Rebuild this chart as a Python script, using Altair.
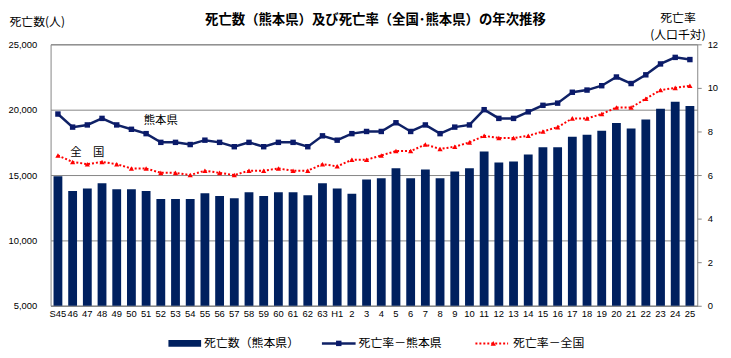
import altair as alt
import pandas as pd

cats = ["S45", "46", "47", "48", "49", "50", "51", "52", "53", "54", "55", "56", "57",
        "58", "59", "60", "61", "62", "63", "H1", "2", "3", "4", "5", "6", "7", "8", "9",
        "10", "11", "12", "13", "14", "15", "16", "17", "18", "19", "20", "21", "22",
        "23", "24", "25"]

deaths = [14900, 13770, 13970, 14370, 13920, 13920, 13770, 13160, 13160, 13160, 13610,
          13390, 13230, 13690, 13390, 13690, 13690, 13460, 14370, 13970, 13560, 14650,
          14750, 15510, 14750, 15430, 14750, 15280, 15510, 16800, 15960, 16040, 16570,
          17120, 17120, 17930, 18080, 18390, 18990, 18560, 19240, 20080, 20600, 20280]

rate_kumamoto = [8.8, 8.2, 8.3, 8.6, 8.3, 8.1, 7.9, 7.5, 7.5, 7.4, 7.6, 7.5, 7.3, 7.5,
                 7.3, 7.5, 7.5, 7.3, 7.8, 7.6, 7.9, 8.0, 8.0, 8.4, 8.0, 8.3, 7.9, 8.2,
                 8.3, 9.0, 8.6, 8.6, 8.9, 9.2, 9.3, 9.8, 9.9, 10.1, 10.5, 10.2, 10.6,
                 11.1, 11.4, 11.3]

rate_national = [6.9, 6.6, 6.5, 6.6, 6.5, 6.3, 6.3, 6.1, 6.1, 6.0, 6.2, 6.1, 6.0, 6.2,
                 6.2, 6.3, 6.2, 6.2, 6.5, 6.4, 6.7, 6.7, 6.9, 7.1, 7.1, 7.4, 7.2, 7.3,
                 7.5, 7.8, 7.7, 7.7, 7.8, 8.0, 8.2, 8.6, 8.6, 8.8, 9.1, 9.1, 9.5, 9.9,
                 10.0, 10.1]

left_ticks = [5000, 10000, 15000, 20000, 25000]
right_ticks = [0, 2, 4, 6, 8, 10, 12]

ann_cats = ["52", "47"]
ann_vals = [8.5, 7.0]
ann_text = ["熊本県", "全\u3000国"]

legend_labels = ["死亡数（熊本県）", "死亡率－熊本県", "死亡率－全国"]
title_text = "死亡数（熊本県）及び死亡率（全国･熊本県）の年次推移"

NAVY = "#00205F"
LINE_NAVY = "#0F2166"
RED = "#FF0000"
GRID = "#868686"
JP = "Noto Sans CJK JP"
NUM = "Liberation Sans"

W, H = 653, 264

df = pd.DataFrame({"cat": cats, "deaths": deaths,
                   "kuma": rate_kumamoto, "nat": rate_national})
ann_df = pd.DataFrame({"cat": ann_cats, "v": ann_vals, "t": ann_text})
one = pd.DataFrame({"a": [0]})

xenc = alt.X("cat:N", sort=cats,
             scale=alt.Scale(paddingInner=0.4, paddingOuter=0.2),
             axis=alt.Axis(title=None, labelAngle=0, ticks=False, domainColor=GRID,
                           labelFont=NUM, labelFontSize=9.5, labelColor="#000000",
                           labelPadding=3, labelOverlap=False))

bars = alt.Chart(df).mark_bar(color=NAVY).encode(
    x=xenc,
    y=alt.Y("deaths:Q",
            scale=alt.Scale(domain=[5000, 25000], zero=False, nice=False),
            axis=alt.Axis(values=left_ticks, labelExpr="format(datum.value, ',.0f')",
                          title="死亡数(人)",
                          titleAngle=0, titleX=-42, titleY=-23, titleAlign="left",
                          titleBaseline="middle", titleFont=JP, titleFontSize=12,
                          titleFontWeight="normal", titleColor="#000000",
                          grid=True, gridColor=GRID, gridWidth=1, ticks=False,
                          domain=False, labelFont=NUM, labelFontSize=9.5,
                          labelColor="#000000", labelPadding=14)),
    y2=alt.datum(5000),
)

rate_scale = alt.Scale(domain=[0, 12], nice=False)
right_axis = alt.Axis(orient="right", values=right_ticks, title=["死亡率", "(人口千対)"],
                      titleAngle=0, titleX=-20, titleY=-32, titleAlign="center",
                      titleBaseline="top", titleFont=JP, titleFontSize=12,
                      titleFontWeight="normal", titleColor="#000000", titleLineHeight=17,
                      grid=False, ticks=True, tickSize=4, tickColor=GRID, domain=False,
                      labelFont=NUM, labelFontSize=9.5, labelColor="#000000",
                      labelPadding=6)

kuma_line = alt.Chart(df).mark_line(color=LINE_NAVY, strokeWidth=2.5).encode(
    x=xenc, y=alt.Y("kuma:Q", scale=rate_scale, axis=right_axis))
kuma_pts = alt.Chart(df).mark_point(shape="square", filled=True, size=30,
                                    color="#0A1A6A", opacity=1).encode(
    x=xenc, y=alt.Y("kuma:Q", scale=rate_scale, axis=right_axis))
nat_line = alt.Chart(df).mark_line(color=RED, strokeWidth=2, strokeDash=[2, 2]).encode(
    x=xenc, y=alt.Y("nat:Q", scale=rate_scale, axis=right_axis))
nat_pts = alt.Chart(df).mark_point(shape="triangle-up", filled=True, size=28,
                                   color=RED, opacity=1).encode(
    x=xenc, y=alt.Y("nat:Q", scale=rate_scale, axis=right_axis))
ann = alt.Chart(ann_df).mark_text(font=JP, fontSize=11.5, color="#000000",
                                  baseline="middle", align="center").encode(
    x=alt.X("cat:N", sort=cats), y=alt.Y("v:Q", scale=rate_scale, axis=right_axis),
    text="t:N")

rates = alt.layer(kuma_line, nat_line, kuma_pts, nat_pts, ann)

# title (drawn as text)
title = alt.Chart(one).mark_text(text=title_text, font=JP, fontSize=13.5,
                                 fontWeight="bold", color="#000000",
                                 align="center", baseline="middle").encode(
    x=alt.value(328), y=alt.value(-25))

# legend
LY = 302
leg_bar = alt.Chart(one).mark_rect(color=NAVY).encode(
    x=alt.value(119), x2=alt.value(152), y=alt.value(LY - 3.5), y2=alt.value(LY + 3.5))
leg_t1 = alt.Chart(one).mark_text(text=legend_labels[0], font=JP, fontSize=12,
                                  align="left", baseline="middle", color="#000000").encode(
    x=alt.value(155), y=alt.value(LY))
leg_l2 = alt.Chart(one).mark_rule(color=LINE_NAVY, strokeWidth=2.5).encode(
    x=alt.value(274), x2=alt.value(308), y=alt.value(LY))
leg_p2 = alt.Chart(one).mark_point(shape="square", filled=True, size=30,
                                   color="#0A1A6A", opacity=1).encode(
    x=alt.value(291), y=alt.value(LY))
leg_t2 = alt.Chart(one).mark_text(text=legend_labels[1], font=JP, fontSize=12,
                                  align="left", baseline="middle", color="#000000").encode(
    x=alt.value(311), y=alt.value(LY))
leg_l3 = alt.Chart(one).mark_rule(color=RED, strokeWidth=2, strokeDash=[2, 2]).encode(
    x=alt.value(429), x2=alt.value(462), y=alt.value(LY))
leg_p3 = alt.Chart(one).mark_point(shape="triangle-up", filled=True, size=28,
                                   color=RED, opacity=1).encode(
    x=alt.value(447), y=alt.value(LY))
leg_t3 = alt.Chart(one).mark_text(text=legend_labels[2], font=JP, fontSize=12,
                                  align="left", baseline="middle", color="#000000").encode(
    x=alt.value(467), y=alt.value(LY))

chart = alt.layer(
    bars, rates, title, leg_bar, leg_t1, leg_l2, leg_p2, leg_t2, leg_l3, leg_p3, leg_t3
).resolve_scale(y="independent").properties(
    width=W, height=H,
    autosize=alt.AutoSizeParams(type="none"),
    padding={"left": 43, "top": 35, "right": 26, "bottom": 43},
    background="#FFFFFF",
).configure_view(stroke=GRID, strokeWidth=1)

chart.save("out.html", embed_options={"renderer": "svg", "actions": False})
